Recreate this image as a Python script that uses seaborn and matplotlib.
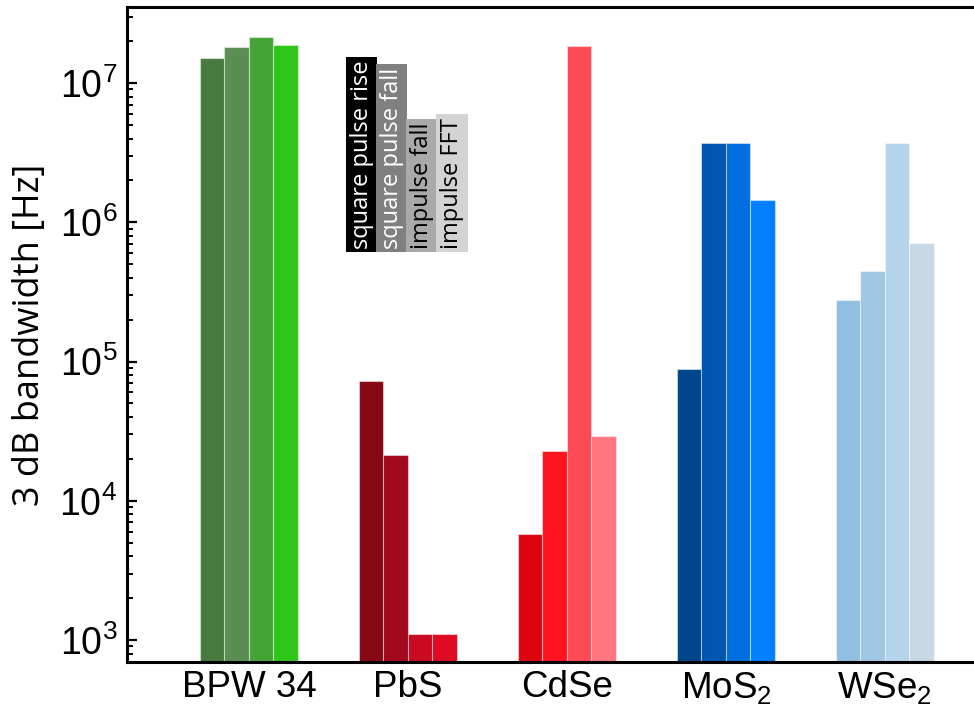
import pandas as pd
import matplotlib.pyplot as plt
import seaborn as sns

# Data
materials = ["BPW 34", "PbS", "CdSe", "MoS$_2$", "WSe$_2$"]
methods = ["square pulse rise", "square pulse fall", "impulse fall", "impulse FFT"]
bpw34 = [1.51e7, 1.81e7, 2.14e7, 1.87e7]
pbs = [7.27e4, 2.14e4, 1.10e3, 1.10e3]
cdse = [5.8e3, 2.29e4, 1.84e7, 2.93e4]
mos2 = [8.9e4, 3.69e6, 3.69e6, 1.44e6]
wse2 = [2.79e5, 4.5e5, 3.69e6, 7.08e5]

colors = [
    ["#487a40", "#5a8e52", "#44a436", "#2fc61a"],
    ["#850814", "#a3081c", "#c90a20", "#e00a22"],
    ["#dd0610", "#fe1520", "#fe4a55", "#ff7680"],
    ["#00468c", "#0055b0", "#006ee0", "#0080ff"],
    ["#90bfe0", "#a0c8e4", "#b3d4ea", "#c8d8e4"],
]
label_box = ["#000000", "#808080", "#a9a9a9", "#d3d3d3"]
label_txt = ["white", "white", "black", "black"]

values = [bpw34, pbs, cdse, mos2, wse2]
rows = []
for m, vals in zip(materials, values):
    for meth, v in zip(methods, vals):
        rows.append({"material": m, "method": meth, "bandwidth": v})
df = pd.DataFrame(rows)

sns.set_style("ticks")
plt.rcParams["font.family"] = ["Liberation Sans", "DejaVu Sans"]
plt.rcParams["mathtext.fontset"] = "custom"
plt.rcParams["mathtext.rm"] = "Liberation Sans"
plt.rcParams["mathtext.it"] = "Liberation Sans:italic"
plt.rcParams["axes.edgecolor"] = "black"
plt.rcParams["axes.labelcolor"] = "black"
plt.rcParams["xtick.color"] = "black"
plt.rcParams["ytick.color"] = "black"
plt.rcParams["text.color"] = "black"

fig = plt.figure(figsize=(9.74, 7.15), dpi=100)
ax = fig.add_axes([0.1304, 0.0741, 0.8696, 0.9161])
ax.set_yscale("log")

sns.barplot(data=df, x="material", y="bandwidth", hue="method", width=0.616,
            gap=0, legend=False, ax=ax, edgecolor=(1, 1, 1, 0.45), linewidth=0.8)

for i, cont in enumerate(ax.containers):
    for j, bar in enumerate(cont):
        bar.set_facecolor(colors[j][i])

ax.set_ylim(695, 3.52e7)
ax.set_xlim(-0.767, 4.56)

for side in ["left", "bottom", "top"]:
    ax.spines[side].set_linewidth(2.2)
ax.spines["right"].set_visible(False)

ax.tick_params(axis="y", which="major", direction="in", length=7, width=1.6,
               labelsize=27, pad=7)
ax.tick_params(axis="y", which="minor", direction="in", length=4, width=1.4)
ax.tick_params(axis="x", length=0, labelsize=26.5, pad=6)
ax.set_xlabel("")
ax.set_ylabel("3 dB bandwidth [Hz]", fontsize=26, family="Open Sans", labelpad=8)

# vertical label boxes acting as legend
xpos = [0.708, 0.899, 1.088, 1.277]
for k, meth in enumerate(methods):
    ax.text(xpos[k], 0.631, meth, rotation=90, ha="center", va="bottom",
            transform=ax.get_xaxis_transform(), fontsize=17,
            family="Open Sans", color=label_txt[k],
            bbox=dict(boxstyle="square,pad=0.15", facecolor=label_box[k],
                      edgecolor="none"))

plt.savefig("out.png", dpi=100)
